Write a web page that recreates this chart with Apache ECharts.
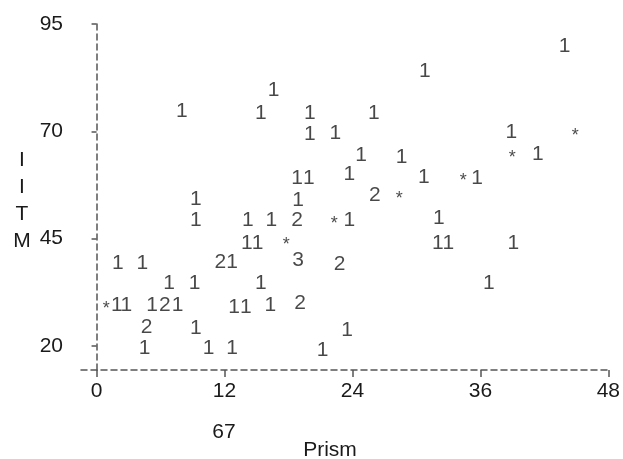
<!DOCTYPE html>
<html>
<head>
<meta charset="utf-8">
<script src="https://cdn.jsdelivr.net/npm/echarts@6/dist/echarts.min.js"></script>
<style>
  html, body { margin: 0; padding: 0; background: #fff; }
  #chart { width: 623px; height: 459px; }
</style>
</head>
<body>
<div id="chart"></div>
<script>
// Text-plot data: each character is one plotted cell (Prism on x, ITM on y)
var prism = [43.9, 30.8, 16.6, 8.0, 15.4, 20.0, 26.0, 20.0, 22.4, 38.9,
             44.9, 39.0, 41.4, 24.8, 28.6, 18.8, 19.9, 23.7, 30.7, 34.4,
             35.7, 26.1, 28.4, 9.3, 18.9, 32.1, 9.3, 14.2, 16.4, 18.8,
             22.3, 23.7, 14.1, 15.1, 17.8, 32.0, 33.0, 39.1, 11.6, 12.7,
             18.9, 22.8, 2.0, 4.3, 6.8, 9.2, 15.4, 36.8, 0.9, 1.9,
             2.8, 5.2, 6.4, 7.6, 12.9, 14.0, 16.3, 19.1, 4.7, 9.3,
             23.5, 4.5, 10.5, 12.7, 21.2];
var itm = [89.9, 84.1, 79.6, 74.7, 74.3, 74.3, 74.3, 69.4, 69.6, 69.8,
           69.8, 64.7, 64.7, 64.5, 64.0, 59.1, 59.1, 60.1, 59.4, 59.3,
           59.1, 55.2, 55.2, 54.2, 54.0, 49.8, 49.3, 49.3, 49.3, 49.3,
           49.3, 49.3, 44.0, 44.0, 44.4, 44.0, 44.0, 44.0, 39.6, 39.6,
           40.0, 39.1, 39.3, 39.3, 34.7, 34.7, 34.7, 34.7, 29.5, 29.5,
           29.5, 29.5, 29.5, 29.5, 29.1, 29.1, 29.5, 30.0, 24.4, 24.2,
           23.7, 19.5, 19.5, 19.5, 19.1];
var marks = ['1','1','1','1','1','1','1','1','1','1',
             '*','*','1','1','1','1','1','1','1','*',
             '1','2','*','1','1','1','1','1','1','2',
             '*','1','1','1','*','1','1','1','2','1',
             '3','2','1','1','1','1','1','1','*','1',
             '1','1','2','1','1','1','1','2','2','1',
             '1','1','1','1','1'];
var xTicks = [0, 12, 24, 36, 48];
var yTicks = [20, 45, 70, 95];
var xRange = [-1.46, 48];
var yRange = [14.4, 95];
var yTitle = 'I\nI\nT\nM';
var xTitle = 'Prism';
var note = '67';

var digitData = [], starData = [];
for (var i = 0; i < prism.length; i++) {
  var d = [prism[i], itm[i], marks[i]];
  if (marks[i] === '*') starData.push(d); else digitData.push(d);
}

var FONT = '"Liberation Sans", Arial, Helvetica, sans-serif';
var TXT = '#1a1a1a';
var FS = 21;

var chart = echarts.init(document.getElementById('chart'), null, { renderer: 'canvas' });
chart.setOption({
  animation: false,
  backgroundColor: '#fff',
  grid: { left: 81, right: 10, top: 24, bottom: 89, containLabel: false },
  xAxis: {
    type: 'value', min: xRange[0], max: xRange[1],
    splitLine: { show: false },
    axisLine: { show: true, lineStyle: { color: '#555', width: 1.5, type: [6, 4] } },
    axisTick: { show: true, customValues: xTicks, length: 7, lineStyle: { color: '#555', width: 1.5 } },
    axisLabel: { customValues: xTicks, margin: 11, color: TXT, fontSize: FS, fontFamily: FONT }
  },
  yAxis: {
    type: 'value', min: yRange[0], max: yRange[1],
    splitLine: { show: false },
    axisLine: { show: true, lineStyle: { color: '#555', width: 1.5, type: [6, 4] } },
    axisTick: { show: true, customValues: yTicks, length: 5, lineStyle: { color: '#555', width: 1.5 } },
    axisLabel: { customValues: yTicks, margin: 18, color: TXT, fontSize: FS, fontFamily: FONT }
  },
  series: [
    {
      type: 'scatter', data: digitData, symbolSize: 1,
      itemStyle: { color: 'rgba(0,0,0,0)' },
      silent: true,
      label: {
        show: true, position: 'inside', formatter: function (p) { return p.data[2]; },
        color: TXT, fontSize: FS, fontFamily: FONT, align: 'center', verticalAlign: 'middle'
      }
    },
    {
      type: 'scatter', data: starData, symbolSize: 1,
      itemStyle: { color: 'rgba(0,0,0,0)' },
      silent: true,
      label: {
        show: true, position: 'inside', formatter: function (p) { return p.data[2]; },
        color: TXT, fontSize: 18, fontFamily: FONT, align: 'center', verticalAlign: 'middle',
        offset: [0, 4]
      }
    }
  ],
  graphic: [
    { type: 'text', x: 22, y: 201, style: { text: yTitle, font: FS + 'px ' + FONT, fill: TXT, align: 'center', verticalAlign: 'middle', lineHeight: 27 } },
    { type: 'text', x: 224, y: 432, style: { text: note, font: FS + 'px ' + FONT, fill: TXT, align: 'center', verticalAlign: 'middle' } },
    { type: 'text', x: 330, y: 450, style: { text: xTitle, font: FS + 'px ' + FONT, fill: TXT, align: 'center', verticalAlign: 'middle' } }
  ]
});
</script>
</body>
</html>
